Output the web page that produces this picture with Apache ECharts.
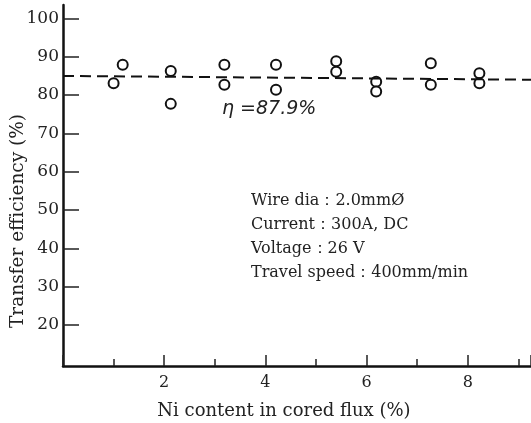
<!DOCTYPE html>
<html>
<head>
<meta charset="utf-8">
<script src="https://cdn.jsdelivr.net/npm/echarts@6/dist/echarts.min.js"></script>
<style>html,body{margin:0;padding:0;background:#fff}#c{width:531px;height:423px}</style>
</head>
<body>
<div id="c"></div>
<script>
var niContent = [1.0, 1.18, 2.13, 2.13, 3.19, 3.19, 4.21, 4.21, 5.4, 5.4, 6.19, 6.19, 7.27, 7.27, 8.23, 8.23];
var efficiency = [83.1, 87.9, 86.3, 77.7, 87.9, 82.7, 87.9, 81.4, 88.8, 86.1, 83.5, 80.9, 88.3, 82.7, 85.7, 83.1];
var meanLineX = [0, 9.25];
var meanLineY = [85.0, 84.0];
var yTickValues = [20, 30, 40, 50, 60, 70, 80, 90, 100];
var xLabelValues = [2, 4, 6, 8];
var xAxisTitle = 'Ni content in cored flux (%)';
var yAxisTitle = 'Transfer efficiency (%)';
var annotation = 'η =87.9%';
var conditions = ['Wire dia\uFF1A2.0mm\u00D8', 'Current\uFF1A300A, DC', 'Voltage\uFF1A26 V', 'Travel speed\uFF1A400mm/min'];

var serif = '"DejaVu Serif", "Liberation Serif", serif';
var chart = echarts.init(document.getElementById('c'));
var pts = niContent.map(function (x, i) { return [x, efficiency[i]]; });
var line = meanLineX.map(function (x, i) { return [x, meanLineY[i]]; });

chart.setOption({
  animation: false,
  backgroundColor: '#fff',
  grid: { left: 63, right: 0, top: 5, bottom: 57, outerBoundsMode: 'none', containLabel: false },
  xAxis: {
    type: 'value', min: 0, max: 9.25, interval: 2,
    axisLine: { onZero: false, lineStyle: { color: '#111', width: 2.5 } },
    axisTick: { inside: true, length: 11, lineStyle: { color: '#222', width: 1.5 } },
    minorTick: { show: true, splitNumber: 2, length: 7, lineStyle: { color: '#222', width: 1.5 } },
    axisLabel: {
      fontFamily: serif, fontSize: 16, color: '#222', margin: 9,
      formatter: function (v) { return xLabelValues.indexOf(v) >= 0 ? String(v) : ''; }
    },
    splitLine: { show: false }
  },
  yAxis: {
    type: 'value', min: 9.3, max: 103.5,
    axisLine: { onZero: false, lineStyle: { color: '#111', width: 2.5 } },
    axisTick: { inside: true, length: 16, customValues: yTickValues, lineStyle: { color: '#222', width: 1.5 } },
    axisLabel: { fontFamily: serif, fontSize: 17, color: '#222', margin: 4, customValues: yTickValues },
    splitLine: { show: false }
  },
  series: [
    {
      type: 'line', data: line, symbol: 'none', silent: true,
      lineStyle: { color: '#111', width: 2, type: [11, 6] }
    },
    {
      type: 'scatter', data: pts, symbol: 'emptyCircle', symbolSize: 10,
      itemStyle: { color: '#111', borderColor: '#111', borderWidth: 2, opacity: 1 }
    }
  ],
  graphic: [
    { type: 'text', x: 222, y: 109, style: { text: annotation, font: 'italic 19px "DejaVu Sans", sans-serif', fill: '#222', verticalAlign: 'middle' } },
    { type: 'text', x: 251, y: 189, style: { text: conditions.join('\n'), font: '16px ' + serif, lineHeight: 24, fill: '#222' } },
    { type: 'text', x: 284, y: 411, style: { text: xAxisTitle, font: '18px ' + serif, fill: '#222', align: 'center', verticalAlign: 'middle' } },
    { type: 'text', x: 18, y: 221, rotation: Math.PI / 2, style: { text: yAxisTitle, font: '18.5px ' + serif, fill: '#222', align: 'center', verticalAlign: 'middle' } }
  ]
});
</script>
</body>
</html>
